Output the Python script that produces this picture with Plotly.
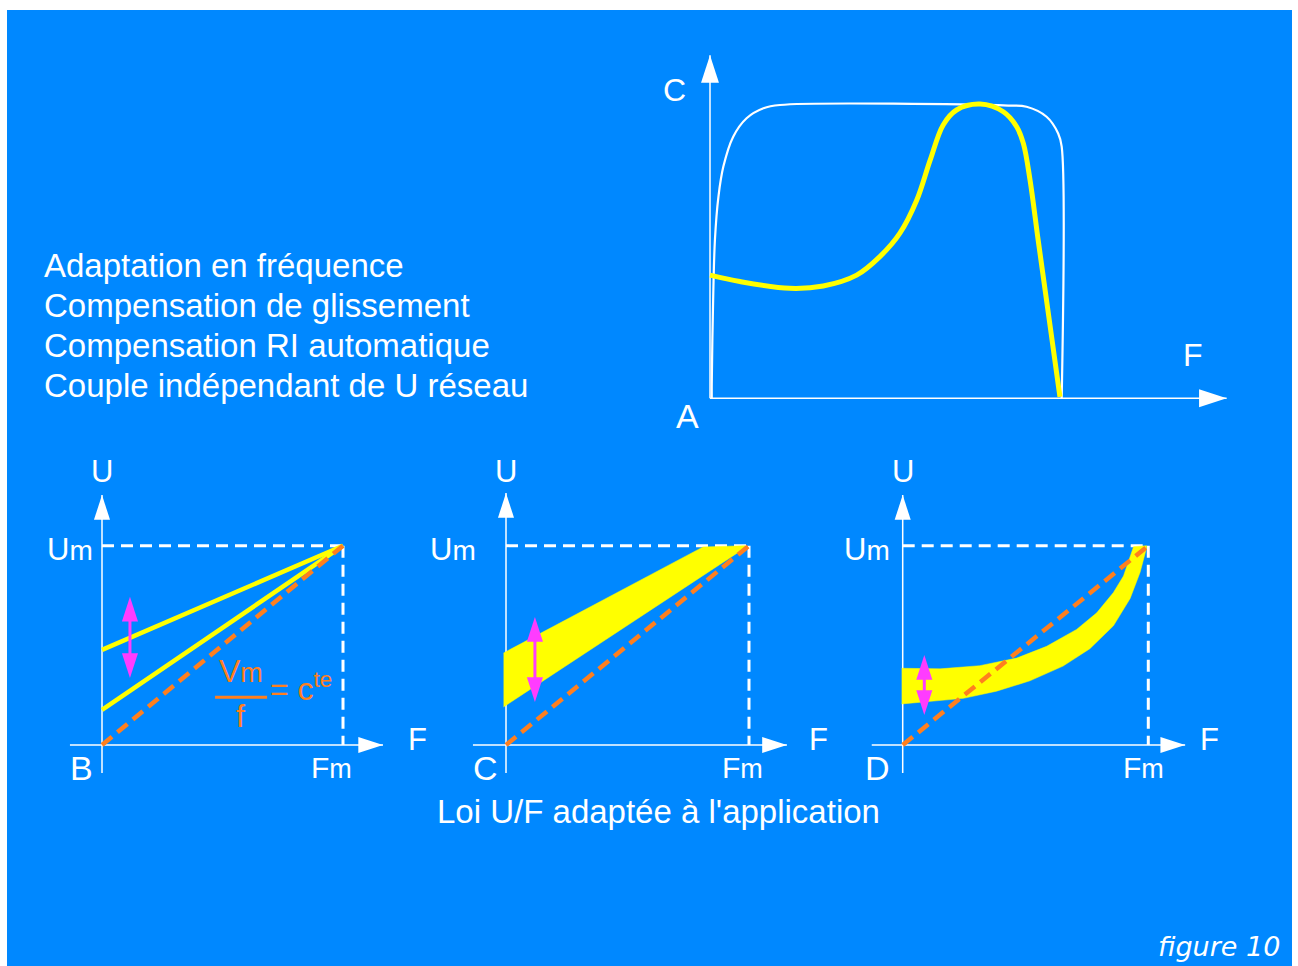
import plotly.graph_objects as go

# ── data ──────────────────────────────────────────────────────────────────────
# A : torque C versus frequency F (both normalised, 1 = nominal)
a_motor_f = [0.005, 0.005, 0.008, 0.014, 0.024, 0.038, 0.066, 0.104, 0.152, 0.199,
             0.848, 0.900, 0.957, 0.990, 1.000, 1.000]
a_motor_c = [0.000, 0.050, 0.278, 0.540, 0.688, 0.790, 0.892, 0.955, 0.989, 1.000,
             0.998, 0.994, 0.960, 0.903, 0.858, 0.000]
a_drive_f = [0.000, 0.085, 0.227, 0.322, 0.417, 0.483, 0.540, 0.588, 0.626, 0.663,
             0.701, 0.768, 0.834, 0.872, 0.891, 0.910, 0.933, 0.962, 0.995]
a_drive_c = [0.420, 0.398, 0.375, 0.383, 0.420, 0.483, 0.563, 0.676, 0.812, 0.932,
             0.983, 1.003, 0.977, 0.926, 0.869, 0.744, 0.540, 0.290, 0.005]

# B : two straight U/F laws (F and U normalised to Fm and Um)
b_law_f = [0.0, 1.0]
b_high_u = [0.477, 1.0]
b_low_u = [0.176, 1.0]

# Vm/f = cte reference line, used in B, C and D
ratio_f = [0.0, 1.0]
ratio_u = [0.0, 1.0]

# C : linear band
c_top_f = [-0.010, 0.811, 0.984]
c_top_u = [0.462, 0.994, 1.000]
c_low_f = [-0.010, 0.985]
c_low_u = [0.191, 0.990]

# D : quadratic band
d_top_f = [-0.004, 0.152, 0.314, 0.464, 0.586, 0.708, 0.790, 0.858, 0.899, 0.926, 0.940, 0.993]
d_top_u = [0.385, 0.382, 0.398, 0.436, 0.495, 0.580, 0.663, 0.765, 0.848, 0.948, 0.995, 1.000]
d_low_f = [-0.004, 0.247, 0.382, 0.518, 0.653, 0.762, 0.858, 0.926, 0.967, 0.993]
d_low_u = [0.206, 0.234, 0.270, 0.322, 0.396, 0.483, 0.598, 0.735, 0.868, 0.990]

# adjustment range shown by the magenta double arrows (F, U low, U high)
b_adjust = [0.116, 0.336, 0.744]
c_adjust = [0.119, 0.216, 0.642]
d_adjust = [0.088, 0.151, 0.452]

features = ["Adaptation en fréquence", "Compensation de glissement",
            "Compensation RI automatique", "Couple indépendant de U réseau"]
caption = "Loi U/F adaptée à l'application"
credit = "figure 10"

# ── look ─────────────────────────────────────────────────────────────────────
BLUE = "#0088FF"
YELLOW = "#FFFF00"
ORANGE = "#FF7F1E"
MAGENTA = "#FF3CFF"
WHITE = "#FFFFFF"
FONT = "Liberation Sans, Arial, Helvetica, sans-serif"

# figure placement on the page (px)
LEFT, TOP, W, H = 7, 10, 1285, 956

# origin (page px), px per unit, and axis extents of each panel
PANELS = {
    "A": dict(ox=710, oy=398.3, sx=351.7, sy=293.3, xa=(0, 1.469), ya=(0, 1.17), head=29),
    "B": dict(ox=102, oy=745, sx=241, sy=199.3, xa=(-0.133, 1.166), ya=(-0.14, 1.254), head=26),
    "C": dict(ox=506, oy=745, sx=243, sy=199.3, xa=(-0.136, 1.156), ya=(-0.14, 1.264), head=26),
    "D": dict(ox=902.7, oy=745, sx=245.6, sy=199.3, xa=(-0.126, 1.150), ya=(-0.14, 1.254), head=26),
}
AX = {"A": ("x", "y"), "B": ("x2", "y2"), "C": ("x3", "y3"), "D": ("x4", "y4")}

fig = go.Figure()


def line(p, xs, ys, color, width, dash=None, shape="linear"):
    xa, ya = AX[p]
    fig.add_trace(go.Scatter(x=xs, y=ys, xaxis=xa, yaxis=ya, mode="lines",
                             line=dict(color=color, width=width, dash=dash, shape=shape)))


def heads(p, xs, ys, angles, color, size):
    xa, ya = AX[p]
    fig.add_trace(go.Scatter(x=xs, y=ys, xaxis=xa, yaxis=ya, mode="markers",
                             marker=dict(symbol="arrow", angle=angles, size=size,
                                         color=color, line=dict(width=0))))


def band(p, tf, tu, lf, lu, color):
    xa, ya = AX[p]
    fig.add_trace(go.Scatter(x=tf + lf[::-1], y=tu + lu[::-1], xaxis=xa, yaxis=ya,
                             mode="lines", fill="toself", fillcolor=color,
                             line=dict(width=0.5, color=color)))


def label(p, x, y, text, size, color=WHITE, xanchor="center"):
    xa, ya = AX[p]
    fig.add_annotation(x=x, y=y, xref=xa, yref=ya, text=text, showarrow=False,
                       xanchor=xanchor, yanchor="middle",
                       font=dict(family=FONT, size=size, color=color))


def page_label(x, y, text, size, xanchor="left", family=FONT, style="normal"):
    fig.add_annotation(x=(x - LEFT) / W, y=(TOP + H - y) / H, xref="paper", yref="paper",
                       text=text, showarrow=False, xanchor=xanchor, yanchor="middle",
                       font=dict(family=family, size=size, color=WHITE, style=style))


def axes_of(p):
    g = PANELS[p]
    line(p, [0, 0], list(g["ya"]), WHITE, 1.5)
    line(p, list(g["xa"]), [0, 0], WHITE, 1.5)
    heads(p, [0, g["xa"][1]], [g["ya"][1], 0], [0, 90], WHITE, g["head"])


def double_arrow(p, adj):
    f, lo, hi = adj
    line(p, [f, f], [lo + 0.06, hi - 0.06], MAGENTA, 3)
    heads(p, [f, f], [hi, lo], [0, 180], MAGENTA, 26)


# ── panel A ──────────────────────────────────────────────────────────────────
axes_of("A")
line("A", a_motor_f, a_motor_c, WHITE, 2.2, shape="spline")
line("A", a_drive_f, a_drive_c, YELLOW, 5, shape="spline")
label("A", -0.1, 1.051, "C", 32)
label("A", 1.373, 0.148, "F", 32)
label("A", -0.063, -0.06, "A", 34)

# ── panels B, C, D ───────────────────────────────────────────────────────────
for p in "BCD":
    axes_of(p)
    line(p, [0, 1], [1, 1], WHITE, 3, dash="12px,7px")
    line(p, [1, 1], [1, 0], WHITE, 3, dash="12px,7px")

line("B", b_law_f, b_high_u, YELLOW, 4.5)
line("B", b_law_f, b_low_u, YELLOW, 4.5)
band("C", c_top_f, c_top_u, c_low_f, c_low_u, YELLOW)
band("D", d_top_f, d_top_u, d_low_f, d_low_u, YELLOW)

for p in "BCD":
    line(p, ratio_f, ratio_u, ORANGE, 4.5, dash="13px,7px")

double_arrow("B", b_adjust)
double_arrow("C", c_adjust)
double_arrow("D", d_adjust)

# Vm / f = cte
line("B", [0.469, 0.685], [0.239, 0.239], ORANGE, 3)
label("B", 0.577, 0.37, "V<span style='font-size:27px'>m</span>", 32, ORANGE)
label("B", 0.575, 0.145, "f", 32, ORANGE)
label("B", 0.69, 0.29, "= c<sup>te</sup>", 32, ORANGE, xanchor="left")

um = "U<span style='font-size:28px'>m</span>"
fm = "F<span style='font-size:27px'>m</span>"
label("B", -0.03, 0.98, um, 31, xanchor="right")
label("C", -0.115, 0.98, um, 31, xanchor="right")
label("D", -0.045, 0.98, um, 31, xanchor="right")
for p, name, xl, xfm, xf in [("B", "B", -0.087, 0.954, 1.311),
                             ("C", "C", -0.084, 0.975, 1.288),
                             ("D", "D", -0.103, 0.979, 1.248)]:
    label(p, 0, 1.37, "U", 31)
    label(p, xl, -0.115, name, 34)
    label(p, xfm, -0.115, fm, 30)
    label(p, xf, 0.028, "F", 31)

# ── free text ────────────────────────────────────────────────────────────────
for i, txt in enumerate(features):
    page_label(42, 265 + 40 * i, txt, 33)
page_label(658, 811, caption, 33, xanchor="center")
page_label(1282, 946, credit, 27, xanchor="right",
           family="DejaVu Sans, Verdana, sans-serif", style="italic")

# ── layout ───────────────────────────────────────────────────────────────────
layout = dict(width=W, height=H, margin=dict(l=0, r=0, t=0, b=0, pad=0),
              paper_bgcolor=BLUE, plot_bgcolor="rgba(0,0,0,0)",
              showlegend=False, hovermode=False)
for i, p in enumerate("ABCD"):
    g = PANELS[p]
    sfx = "" if i == 0 else str(i + 1)
    xr = [(LEFT - g["ox"]) / g["sx"], (LEFT + W - g["ox"]) / g["sx"]]
    yr = [(g["oy"] - TOP - H) / g["sy"], (g["oy"] - TOP) / g["sy"]]
    layout["xaxis" + sfx] = dict(range=xr, domain=[0, 1], visible=False, fixedrange=True,
                                 anchor="y" + sfx, overlaying=None if i == 0 else "x")
    layout["yaxis" + sfx] = dict(range=yr, domain=[0, 1], visible=False, fixedrange=True,
                                 anchor="x" + sfx, overlaying=None if i == 0 else "y")
fig.update_layout(**layout)

fig.write_html("out.html", config={"displayModeBar": False},
               post_script="document.body.style.margin='10px 0 0 7px';")
